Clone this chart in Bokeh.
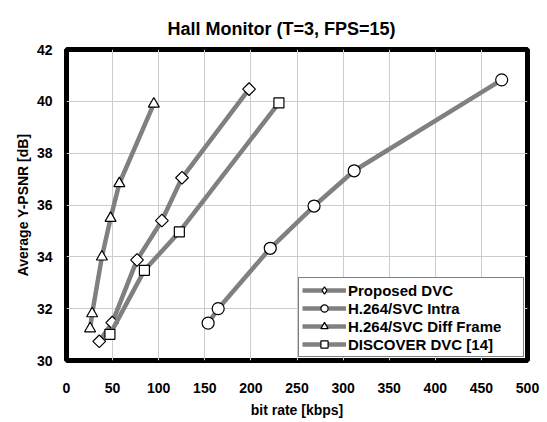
import numpy as np
from bokeh.plotting import figure
from bokeh.models import Range1d, FixedTicker, Legend, LegendItem
from bokeh.embed import file_html
from bokeh.resources import INLINE

# ---- data ----
prop_x = [35.5, 49.6, 76.5, 103.5, 125.3, 198.0]
prop_y = [30.74, 31.46, 33.88, 35.40, 37.05, 40.47]

intra_x = [153.6, 164.5, 221.0, 268.5, 312.0, 472.0]
intra_y = [31.44, 32.00, 34.33, 35.96, 37.32, 40.83]

diff_x = [25.6, 27.8, 38.4, 47.8, 57.3, 94.7]
diff_y = [31.23, 31.81, 34.00, 35.49, 36.83, 39.90]

disc_x = [47.1, 84.5, 122.4, 230.4]
disc_y = [31.01, 33.48, 34.96, 39.94]

x_ticks = [0, 50, 100, 150, 200, 250, 300, 350, 400, 450, 500]
y_ticks = [30, 32, 34, 36, 38, 40, 42]

series_names = ["Proposed DVC", "H.264/SVC Intra", "H.264/SVC Diff Frame", "DISCOVER DVC [14]"]

FONT = "Liberation Sans"
LINE_COLOR = "#808080"

p = figure(width=545, height=420,
           x_range=Range1d(0, 500), y_range=Range1d(30, 42),
           output_backend="svg", toolbar_location=None,
           min_border_left=66, min_border_right=18,
           min_border_top=49, min_border_bottom=59,
           title="Hall Monitor (T=3, FPS=15)")

p.background_fill_color = "white"
p.border_fill_color = "white"
p.outline_line_color = "black"
p.outline_line_width = 5

p.title.text_font = FONT
p.title.text_font_size = "18px"
p.title.text_font_style = "bold"
p.title.text_color = "black"
p.title.align = "left"
p.title.offset = 101
p.title.standoff = 21

p.xaxis.ticker = FixedTicker(ticks=x_ticks)
p.yaxis.ticker = FixedTicker(ticks=y_ticks)
p.xaxis.axis_label = "bit rate [kbps]"
p.yaxis.axis_label = "Average Y-PSNR [dB]"
for ax in (p.xaxis, p.yaxis):
    ax.axis_line_color = None
    ax.major_tick_line_color = None
    ax.minor_tick_line_color = None
    ax.major_tick_out = 0
    ax.major_label_text_font = FONT
    ax.major_label_text_font_size = "14px"
    ax.major_label_text_font_style = "bold"
    ax.major_label_text_color = "black"
    ax.axis_label_text_font = FONT
    ax.axis_label_text_font_size = "14px"
    ax.axis_label_text_font_style = "bold"
    ax.axis_label_text_color = "black"
p.xaxis.major_label_standoff = 22
p.yaxis.major_label_standoff = 14
p.xaxis.axis_label_standoff = 6
p.yaxis.axis_label_standoff = 3

p.xgrid.ticker = FixedTicker(ticks=x_ticks)
p.ygrid.ticker = FixedTicker(ticks=y_ticks)
p.grid.grid_line_color = "#cccccc"
p.grid.grid_line_width = 1

items = []
specs = [
    (prop_x, prop_y, "square", 9, np.pi / 4, "diamond"),
    (intra_x, intra_y, "circle", 12, 0.0, "circle"),
    (diff_x, diff_y, "triangle", 11, 0.0, "triangle"),
    (disc_x, disc_y, "square", 10, 0.0, "square"),
]
for (xs, ys, marker, size, angle, leg_marker), name in zip(specs, series_names):
    ln = p.line(xs, ys, line_color=LINE_COLOR, line_width=4.5)
    sc = p.scatter(xs, ys, marker=marker, size=size, angle=angle,
                   fill_color="white", line_color="black", line_width=1.2)
    if leg_marker != marker or angle != 0.0:
        # legend-only glyph (legend markers are drawn unrotated)
        lg = p.scatter(xs, ys, marker=leg_marker, size=size,
                       fill_color="white", line_color="black", line_width=1.2,
                       visible=False)
        items.append(LegendItem(label=name, renderers=[ln, lg]))
    else:
        items.append(LegendItem(label=name, renderers=[ln, sc]))

legend = Legend(items=items, location="bottom_right")
legend.border_line_color = "black"
legend.border_line_width = 1
legend.background_fill_color = "white"
legend.background_fill_alpha = 1.0
legend.label_text_font = FONT
legend.label_text_font_size = "15px"
legend.label_text_font_style = "bold"
legend.label_text_color = "black"
legend.glyph_width = 44
legend.glyph_height = 18
legend.label_height = 18
legend.label_width = 172
legend.label_standoff = 2
legend.spacing = 0
legend.padding = 3
legend.margin = 3
p.add_layout(legend)

open("out.html", "w").write(file_html(p, INLINE))
